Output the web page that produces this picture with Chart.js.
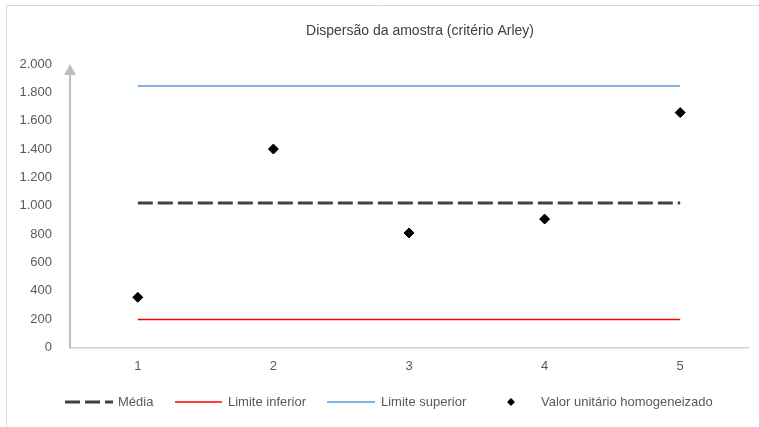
<!DOCTYPE html>
<html>
<head>
<meta charset="utf-8">
<script src="https://cdn.jsdelivr.net/npm/chart.js@4"></script>
<style>
  html, body { margin: 0; padding: 0; background: #ffffff; }
  #wrap { width: 759px; height: 427px; position: relative; }
</style>
</head>
<body>
<div id="wrap"><canvas id="c" width="759" height="427"></canvas></div>
<script>
// Amostras (eixo X) e valores
const amostras = ['1', '2', '3', '4', '5'];
const valorUnitario = [354, 1400, 808, 906, 1657];
const media = [1020, 1020, 1020, 1020, 1020];
const limiteInferior = [197, 197, 197, 197, 197];
const limiteSuperior = [1845, 1845, 1845, 1845, 1845];
const yTicks = { min: 0, max: 2000, step: 200 };

const FONT = '"Liberation Sans", Arial, sans-serif';
const TEXT = '#595959';

function fmtMilhar(v) {
  return String(Math.round(v)).replace(/\B(?=(\d{3})+(?!\d))/g, '.');
}

// Moldura, título, eixo Y com seta e legenda
const decor = {
  id: 'decor',
  beforeDraw(chart) {
    const ctx = chart.ctx;
    ctx.save();
    ctx.strokeStyle = '#d9d9d9';
    ctx.lineWidth = 1;
    ctx.beginPath();
    ctx.moveTo(6.5, 427);
    ctx.lineTo(6.5, 5.5);
    ctx.lineTo(759, 5.5);
    ctx.stroke();
    ctx.restore();
  },
  afterDatasetsDraw(chart) {
    const ctx = chart.ctx;
    const ys = chart.scales.y;
    const x0 = chart.chartArea.left;
    const yBottom = ys.getPixelForValue(yTicks.min);
    const yTop = ys.getPixelForValue(yTicks.max);
    ctx.save();
    // eixo vertical com seta
    ctx.strokeStyle = '#bfbfbf';
    ctx.fillStyle = '#bfbfbf';
    ctx.lineWidth = 2;
    ctx.beginPath();
    ctx.moveTo(x0, yBottom + 1);
    ctx.lineTo(x0, yTop + 8);
    ctx.stroke();
    ctx.beginPath();
    ctx.moveTo(x0, yTop);
    ctx.lineTo(x0 - 6, yTop + 11);
    ctx.lineTo(x0 + 6, yTop + 11);
    ctx.closePath();
    ctx.fill();

    // título
    ctx.fillStyle = '#404040';
    ctx.font = '14px ' + FONT;
    ctx.textAlign = 'center';
    ctx.textBaseline = 'middle';
    ctx.fillText('Dispersão da amostra (critério Arley)', 420, 31);

    // legenda
    const ds = chart.data.datasets;
    const ly = 402;
    ctx.font = '13px ' + FONT;
    ctx.textAlign = 'left';
    ctx.fillStyle = TEXT;
    const lines = [
      { d: ds[0], x1: 65, x2: 113, tx: 118 },
      { d: ds[1], x1: 175, x2: 222, tx: 228 },
      { d: ds[2], x1: 327, x2: 375, tx: 381 }
    ];
    lines.forEach(it => {
      ctx.save();
      ctx.strokeStyle = it.d.borderColor;
      ctx.lineWidth = it.d.borderWidth;
      ctx.setLineDash(it.d.borderDash || []);
      ctx.beginPath();
      ctx.moveTo(it.x1, ly);
      ctx.lineTo(it.x2, ly);
      ctx.stroke();
      ctx.restore();
      ctx.fillStyle = TEXT;
      ctx.fillText(it.d.label, it.tx, ly);
    });
    const p = ds[3];
    ctx.fillStyle = p.pointBackgroundColor;
    ctx.beginPath();
    ctx.moveTo(511, ly - 4);
    ctx.lineTo(515, ly);
    ctx.lineTo(511, ly + 4);
    ctx.lineTo(507, ly);
    ctx.closePath();
    ctx.fill();
    ctx.fillStyle = TEXT;
    ctx.fillText(p.label, 541, ly);
    ctx.restore();
  }
};

new Chart(document.getElementById('c'), {
  type: 'line',
  data: {
    labels: amostras,
    datasets: [
      {
        label: 'Média',
        data: media,
        borderColor: '#404040',
        borderWidth: 3,
        borderDash: [15, 5],
        pointRadius: 0,
        fill: false,
        order: 1
      },
      {
        label: 'Limite inferior',
        data: limiteInferior,
        borderColor: '#ff0000',
        borderWidth: 1.5,
        pointRadius: 0,
        fill: false,
        order: 1
      },
      {
        label: 'Limite superior',
        data: limiteSuperior,
        borderColor: '#5b9bd5',
        borderWidth: 1.5,
        pointRadius: 0,
        fill: false,
        order: 1
      },
      {
        label: 'Valor unitário homogeneizado',
        data: valorUnitario,
        showLine: false,
        pointStyle: 'rectRot',
        pointRadius: 5,
        pointBorderWidth: 1,
        pointBackgroundColor: '#000000',
        pointBorderColor: '#000000',
        order: 0
      }
    ]
  },
  options: {
    responsive: false,
    animation: false,
    events: [],
    layout: { padding: { left: 0, right: 11, top: 64, bottom: 0 } },
    plugins: {
      legend: { display: false },
      title: { display: false },
      tooltip: { enabled: false }
    },
    scales: {
      x: {
        type: 'category',
        offset: true,
        grid: { display: false, drawTicks: false },
        border: { display: true, color: '#d0d0d0', width: 1.5 },
        ticks: { color: TEXT, font: { family: FONT, size: 13 }, padding: 11 },
        afterFit(scale) { scale.height = 79.5; }
      },
      y: {
        min: yTicks.min,
        max: yTicks.max,
        grid: { display: false, drawTicks: false },
        border: { display: false },
        ticks: {
          stepSize: yTicks.step,
          color: TEXT,
          font: { family: FONT, size: 13 },
          padding: 18,
          callback: v => fmtMilhar(v)
        },
        afterFit(scale) { scale.width = 70; }
      }
    }
  },
  plugins: [decor]
});
</script>
</body>
</html>
